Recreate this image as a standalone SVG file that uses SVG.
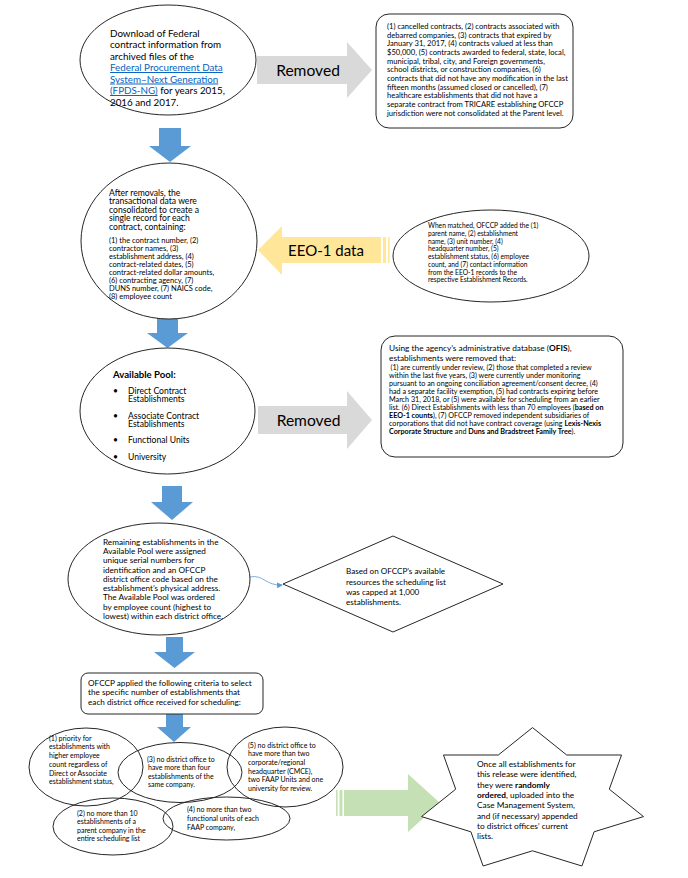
<svg xmlns="http://www.w3.org/2000/svg" width="688" height="878" viewBox="0 0 688 878">
<style>
.t{font-family:Lato,"Liberation Sans",sans-serif;fill:#000}
.sh{fill:#fff;stroke:#262626;stroke-width:1}
.nf{fill:none}
.blue{fill:#5B9BD5}
.gray{fill:#D9D9D9}
.yel{fill:#FFE699}
.grn{fill:#C5E0B4}
.lnk{fill:#0563C1;text-decoration:underline}
.big{font-size:15.6px}
</style>
<defs>
<marker id="ah" markerWidth="6" markerHeight="6" refX="5" refY="3" orient="auto" markerUnits="userSpaceOnUse">
<path d="M0,0 L6,3 L0,6 Z" fill="#5B9BD5"/>
</marker>
</defs>
<rect width="688" height="878" fill="#fff"/>

<g id="connectors">
<polygon class="blue" points="159,128 181,128 181,146 191,146 170,162 149,146 159,146"/>
<polygon class="blue" points="157,318 178,318 178,333 188,333 167.5,348 147,333 157,333"/>
<polygon class="blue" points="162,486 182,486 182,502 193,502 172,520 151,502 162,502"/>
<polygon class="blue" points="166,637 183,637 183,652 195,652 174.5,668 154,652 166,652"/>
<polygon class="blue" points="166,713 183,713 183,727 191,727 174,742 157,727 166,727"/>
<g id="removed1">
<polygon class="gray" points="257,56 347,56 347,42 372,70 347,98 347,84 257,84"/>
<text class="t big" x="308" y="75.5" text-anchor="middle">Removed</text>
</g>
<g id="removed2">
<polygon class="gray" points="258,406 347,406 347,391 372,420 347,449 347,434 258,434"/>
<text class="t big" x="308.5" y="425.5" text-anchor="middle">Removed</text>
</g>
<g id="eeo1">
<polygon class="yel" points="258,250 282,226 282,237 381,237 381,263 282,263 282,275"/>
<rect class="yel" x="383" y="237" width="3" height="26"/>
<rect class="yel" x="388" y="237" width="1.6" height="26"/>
<text class="t" x="326" y="255.5" text-anchor="middle" font-size="15">EEO-1 data</text>
</g>
<g id="green">
<rect class="grn" x="336" y="790" width="1.6" height="26"/>
<rect class="grn" x="339.5" y="790" width="3" height="26"/>
<polygon class="grn" points="344,790 408,790 408,774 440,803 408,832 408,816 344,816"/>
</g>
<path d="M250,577 C263,574 266,586 282,585" fill="none" stroke="#5B9BD5" stroke-width="0.8" marker-end="url(#ah)"/>
</g>

<g id="n1">
<ellipse class="sh" cx="168" cy="60" rx="88" ry="55"/>
<text class="t" font-size="9.8">
<tspan x="110" y="36.5">Download of Federal</tspan>
<tspan x="110" y="48">contract information from</tspan>
<tspan x="110" y="59.5">archived files of the</tspan>
<tspan x="110" y="71" class="lnk">Federal Procurement Data</tspan>
<tspan x="110" y="82.5" class="lnk">System–Next Generation</tspan>
<tspan x="110" y="94"><tspan class="lnk">(FPDS-NG)</tspan> for years 2015,</tspan>
<tspan x="110" y="105.5">2016 and 2017.</tspan>
</text>
</g>

<g id="n2">
<rect class="sh" x="376" y="14" width="197" height="114" rx="13"/>
<text class="t" font-size="7.6">
<tspan x="387" y="28.8">(1) cancelled contracts, (2) contracts associated with</tspan>
<tspan x="387" y="37.5">debarred companies, (3) contracts that expired by</tspan>
<tspan x="387" y="46.2">January 31, 2017, (4) contracts valued at less than</tspan>
<tspan x="387" y="54.9">$50,000, (5) contracts awarded to federal, state, local,</tspan>
<tspan x="387" y="63.6">municipal, tribal, city, and Foreign governments,</tspan>
<tspan x="387" y="72.3">school districts, or construction companies, (6)</tspan>
<tspan x="387" y="81">contracts that did not have any modification in the last</tspan>
<tspan x="387" y="89.7">fifteen months (assumed closed or cancelled), (7)</tspan>
<tspan x="387" y="98.4">healthcare establishments that did not have a</tspan>
<tspan x="387" y="107.1">separate contract from TRICARE establishing OFCCP</tspan>
<tspan x="387" y="115.8">jurisdiction were not consolidated at the Parent level.</tspan>
</text>
</g>

<g id="n3">
<ellipse class="sh" cx="169" cy="241" rx="88" ry="78"/>
<text class="t" font-size="8.6">
<tspan x="109" y="195.5">After removals, the</tspan>
<tspan x="109" y="204.1">transactional data were</tspan>
<tspan x="109" y="212.7">consolidated to create a</tspan>
<tspan x="109" y="221.3">single record for each</tspan>
<tspan x="109" y="229.9">contract, containing:</tspan>
</text>
<text class="t" font-size="7.5">
<tspan x="109" y="242.5">(1) the contract number,  (2)</tspan>
<tspan x="109" y="250.6">contractor names, (3)</tspan>
<tspan x="109" y="258.7">establishment address, (4)</tspan>
<tspan x="109" y="266.8">contract-related dates,  (5)</tspan>
<tspan x="109" y="274.9">contract-related dollar amounts,</tspan>
<tspan x="109" y="283">(6) contracting agency,  (7)</tspan>
<tspan x="109" y="291.1">DUNS number,  (7) NAICS code,</tspan>
<tspan x="109" y="299.2">(8) employee count</tspan>
</text>
</g>

<g id="n4">
<ellipse class="sh" cx="491" cy="256" rx="98" ry="46"/>
<text class="t" font-size="6.7">
<tspan x="428" y="228.3">When matched, OFCCP added the (1)</tspan>
<tspan x="428" y="236">parent name, (2) establishment</tspan>
<tspan x="428" y="243.7">name, (3) unit number, (4)</tspan>
<tspan x="428" y="251.4">headquarter number, (5)</tspan>
<tspan x="428" y="259.1">establishment status, (6) employee</tspan>
<tspan x="428" y="266.8">count, and (7) contact information</tspan>
<tspan x="428" y="274.5">from the EEO-1 records to the</tspan>
<tspan x="428" y="282.2">respective Establishment Records.</tspan>
</text>
</g>

<g id="n5">
<ellipse class="sh" cx="167.5" cy="411" rx="87.5" ry="63"/>
<text class="t" font-size="9.6" font-weight="bold" x="113" y="377.5">Available Pool:</text>
<text class="t" font-size="8.6">
<tspan x="113" y="393.5">•</tspan><tspan x="128" y="393.5">Direct Contract</tspan>
<tspan x="128" y="402.1">Establishments</tspan>
<tspan x="113" y="418.5">•</tspan><tspan x="128" y="418.5">Associate Contract</tspan>
<tspan x="128" y="427.1">Establishments</tspan>
<tspan x="113" y="443">•</tspan><tspan x="128" y="443">Functional Units</tspan>
<tspan x="113" y="460">•</tspan><tspan x="128" y="460">University</tspan>
</text>
</g>

<g id="n6">
<rect class="sh" x="381" y="336" width="242" height="121" rx="14"/>
<text class="t" font-size="8.3">
<tspan x="389" y="351.3">Using the agency’s administrative database (<tspan font-weight="bold">OFIS</tspan>),</tspan>
<tspan x="389" y="361.3">establishments were removed that:</tspan>
</text>
<text class="t" font-size="7.2">
<tspan x="390.5" y="370">(1) are currently under review, (2) those that completed a review</tspan>
<tspan x="389" y="378">within the last five years, (3) were currently under monitoring</tspan>
<tspan x="389" y="386">pursuant to an ongoing conciliation agreement/consent decree, (4)</tspan>
<tspan x="389" y="394">had a separate facility exemption, (5) had contracts expiring before</tspan>
<tspan x="389" y="402">March 31, 2018, or (5) were available for scheduling from an earlier</tspan>
<tspan x="389" y="410">list.  (6) Direct Establishments with less than 70 employees (<tspan font-weight="bold">based on</tspan></tspan>
<tspan x="389" y="418"><tspan font-weight="bold">EEO-1 counts</tspan>), (7) OFCCP removed independent subsidiaries of</tspan>
<tspan x="389" y="426">corporations that did not have contract coverage (using <tspan font-weight="bold">Lexis-Nexis</tspan></tspan>
<tspan x="389" y="434"><tspan font-weight="bold">Corporate Structure</tspan> and <tspan font-weight="bold">Duns and Bradstreet Family Tree</tspan>).</tspan>
</text>
</g>

<g id="n7">
<ellipse class="sh" cx="159" cy="579" rx="91" ry="56"/>
<text class="t" font-size="8.2">
<tspan x="103" y="544.7">Remaining establishments in the</tspan>
<tspan x="103" y="554">Available Pool were assigned</tspan>
<tspan x="103" y="563.2">unique serial numbers for</tspan>
<tspan x="103" y="572.5">identification and an OFCCP</tspan>
<tspan x="103" y="581.7">district office code based on the</tspan>
<tspan x="103" y="591">establishment’s physical address.</tspan>
<tspan x="103" y="600.2">The Available Pool was ordered</tspan>
<tspan x="103" y="609.5">by employee count (highest to</tspan>
<tspan x="103" y="618.7">lowest) within each district office.</tspan>
</text>
</g>

<g id="n8">
<polygon class="sh" points="283,584 393,536 503,584 393,632"/>
<text class="t" font-size="8.1">
<tspan x="346" y="573.7">Based on OFCCP’s available</tspan>
<tspan x="346" y="584.7">resources the scheduling list</tspan>
<tspan x="346" y="594.7">was capped at 1,000</tspan>
<tspan x="346" y="604.7">establishments.</tspan>
</text>
</g>

<g id="n9">
<rect class="sh" x="81" y="673" width="182" height="41" rx="7"/>
<text class="t" font-size="8.2">
<tspan x="88" y="685.7">OFCCP applied the following criteria to select</tspan>
<tspan x="88" y="695.3">the specific number of establishments that</tspan>
<tspan x="88" y="704.7">each district office received for scheduling:</tspan>
</text>
</g>

<g id="c1">
<ellipse class="sh nf" cx="86" cy="767" rx="57" ry="39"/>
<text class="t" font-size="7">
<tspan x="49" y="740.8">(1) priority for</tspan>
<tspan x="49" y="749.4">establishments with</tspan>
<tspan x="49" y="758.2">higher employee</tspan>
<tspan x="49" y="766.8">count regardless of</tspan>
<tspan x="49" y="775.6">Direct or Associate</tspan>
<tspan x="49" y="784.2">establishment status,</tspan>
</text>
</g>
<g id="c3">
<ellipse class="sh nf" cx="180" cy="772.5" rx="62" ry="30"/>
<text class="t" font-size="7">
<tspan x="147" y="761.5"> (3) no district office to</tspan>
<tspan x="148" y="770.2">have more than four</tspan>
<tspan x="148" y="778.7">establishments of the</tspan>
<tspan x="148" y="787.4">same company.</tspan>
</text>
</g>
<g id="c5">
<ellipse class="sh nf" cx="285" cy="767" rx="58" ry="40"/>
<text class="t" font-size="7">
<tspan x="248" y="747.5">(5) no district office to</tspan>
<tspan x="248" y="756.1">have more than two</tspan>
<tspan x="248" y="764.8">corporate/regional</tspan>
<tspan x="248" y="773.5">headquarter (CMCE),</tspan>
<tspan x="248" y="782.2">two FAAP Units and one</tspan>
<tspan x="248" y="790.8">university for review.</tspan>
</text>
</g>
<g id="c2">
<ellipse class="sh nf" cx="113" cy="826.5" rx="60" ry="28.5"/>
<text class="t" font-size="7">
<tspan x="77" y="815.8">(2) no more than 10</tspan>
<tspan x="77" y="824.2">establishments of a</tspan>
<tspan x="77" y="832.5">parent company in the</tspan>
<tspan x="77" y="840.8">entire scheduling list</tspan>
</text>
</g>
<g id="c4">
<ellipse class="sh nf" cx="226.5" cy="818.5" rx="63.5" ry="21.5"/>
<text class="t" font-size="7">
<tspan x="187" y="811.8">(4) no more than two</tspan>
<tspan x="187" y="820.8">functional units of each</tspan>
<tspan x="187" y="829.8">FAAP company,</tspan>
</text>
</g>

<g id="n10">
<polygon class="sh" points="532.5,727.6 566.7,755 621.5,755 609.3,789.2 643.5,816.6 594.1,831.8 581.9,866 532.5,850.8 483.1,866 470.9,831.8 421.5,816.6 455.7,789.2 443.5,755 498.3,755"/>
<text class="t" font-size="8.3">
<tspan x="477" y="767">Once all establishments for</tspan>
<tspan x="477" y="777.3">this release were identified,</tspan>
<tspan x="477" y="787.6">they were <tspan font-weight="bold">randomly</tspan></tspan>
<tspan x="477" y="797.9"><tspan font-weight="bold">ordered</tspan>, uploaded into the</tspan>
<tspan x="477" y="808.2">Case Management System,</tspan>
<tspan x="477" y="818.5">and (if necessary) appended</tspan>
<tspan x="477" y="828.8">to district offices’ current</tspan>
<tspan x="477" y="839.1">lists.</tspan>
</text>
</g>
</svg>
